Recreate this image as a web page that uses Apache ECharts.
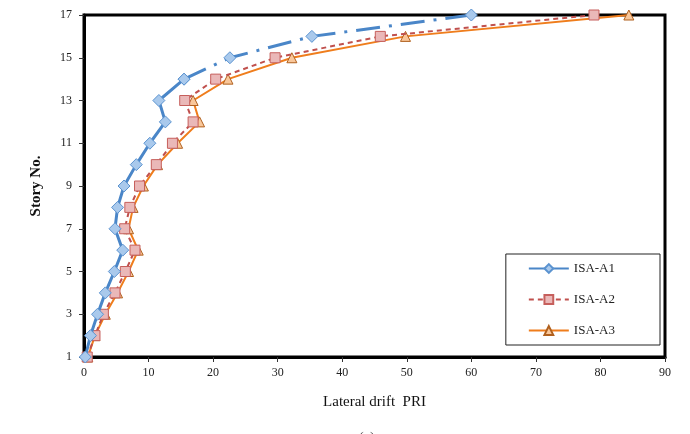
<!DOCTYPE html>
<html>
<head>
<meta charset="utf-8">
<script src="https://cdn.jsdelivr.net/npm/echarts@6/dist/echarts.min.js"></script>
<style>html,body{margin:0;padding:0;background:#fff}#c{width:690px;height:434px}</style>
</head>
<body>
<div id="c"></div>
<script>
const stories = [1,2,3,4,5,6,7,8,9,10,11,12,13,14,15,16,17];
const isaA1 = [0.2,1.0,2.1,3.3,4.7,6.0,4.8,5.2,6.2,8.1,10.2,12.6,11.6,15.5,22.6,35.3,60.0];
const isaA2 = [0.5,1.7,3.0,4.8,6.4,7.9,6.3,7.1,8.6,11.2,13.7,16.9,15.6,20.4,29.6,45.9,79.0];
const isaA3 = [0.6,1.7,3.3,5.2,6.9,8.4,6.9,7.6,9.2,11.4,14.5,17.9,16.9,22.3,32.2,49.8,84.4];
const seriesNames = ['ISA-A1','ISA-A2','ISA-A3'];
const xTicks = {min:0, max:90, step:10};
const yTicks = {min:1, max:17, step:2};
const splitStory = 14;

const pairs = (vals) => vals.map((v,i)=>[v, stories[i]]);
const a1 = pairs(isaA1);
const idx = stories.indexOf(splitStory);
const font = 'Liberation Serif';

const chart = echarts.init(document.getElementById('c'));
chart.setOption({
  animation:false,
  grid:{left:84,right:25,top:15,bottom:77,show:true,borderColor:'#000',borderWidth:3},
  legend:{
    data:[
      {name:seriesNames[0]},{name:seriesNames[1]},{name:seriesNames[2]}
    ],
    orient:'vertical', right:30, top:254,
    padding:[8,45,8,22],
    borderColor:'#222', borderWidth:1, backgroundColor:'#fff',
    itemWidth:40, itemHeight:11, itemGap:18,
    textStyle:{fontFamily:font,fontSize:13,color:'#222'}
  },
  xAxis:{
    type:'value', min:xTicks.min, max:xTicks.max, interval:xTicks.step,
    name:'Lateral drift  PRI', nameLocation:'middle', nameGap:38,
    nameTextStyle:{fontFamily:font,fontSize:15,color:'#111'},
    axisLine:{show:true,onZero:false,lineStyle:{color:'#000',width:3}},
    axisTick:{show:true,length:5,lineStyle:{color:'#333',width:1}},
    axisLabel:{fontFamily:font,fontSize:12,color:'#222',margin:10},
    splitLine:{show:false}
  },
  yAxis:{
    type:'value', min:yTicks.min, max:yTicks.max, interval:yTicks.step,
    name:'Story No.', nameLocation:'middle', nameGap:40,
    nameTextStyle:{fontFamily:font,fontSize:15,fontWeight:'bold',color:'#111'},
    axisLine:{show:true,onZero:false,lineStyle:{color:'#000',width:3}},
    axisTick:{show:true,length:5,lineStyle:{color:'#333',width:1}},
    axisLabel:{fontFamily:font,fontSize:12,color:'#222',margin:12},
    splitLine:{show:false}
  },
  graphic:[{type:'text',left:359,top:431,style:{text:'(a)',font:'14px "Liberation Serif"',fill:'#444'}}],
  series:[
    {
      name:seriesNames[0], type:'line', data:a1.slice(0, idx+1),
      symbol:'diamond', symbolSize:12,
      lineStyle:{color:'#4a86c8',width:3},
      itemStyle:{color:'#a9c9ec',borderColor:'#5b93d0',borderWidth:1},
      z:4
    },
    {
      name:seriesNames[0]+' upper', type:'line', data:a1.slice(idx),
      symbol:'diamond', symbolSize:12,
      lineStyle:{color:'#4a86c8',width:3,type:[24,9,3,9]},
      itemStyle:{color:'#a9c9ec',borderColor:'#5b93d0',borderWidth:1},
      z:4
    },
    {
      name:seriesNames[1], type:'line', data:pairs(isaA2),
      symbol:'rect', symbolSize:10,
      lineStyle:{color:'#c0504d',width:2,type:[5,4]},
      itemStyle:{color:'#eab8b8',borderColor:'#c65f5c',borderWidth:1},
      z:3
    },
    {
      name:seriesNames[2], type:'line', data:pairs(isaA3),
      symbol:'triangle', symbolSize:10,
      lineStyle:{color:'#ef7d1c',width:2},
      itemStyle:{color:'#f9c79a',borderColor:'#b0601e',borderWidth:1},
      z:2
    }
  ]
});
</script>
</body>
</html>
